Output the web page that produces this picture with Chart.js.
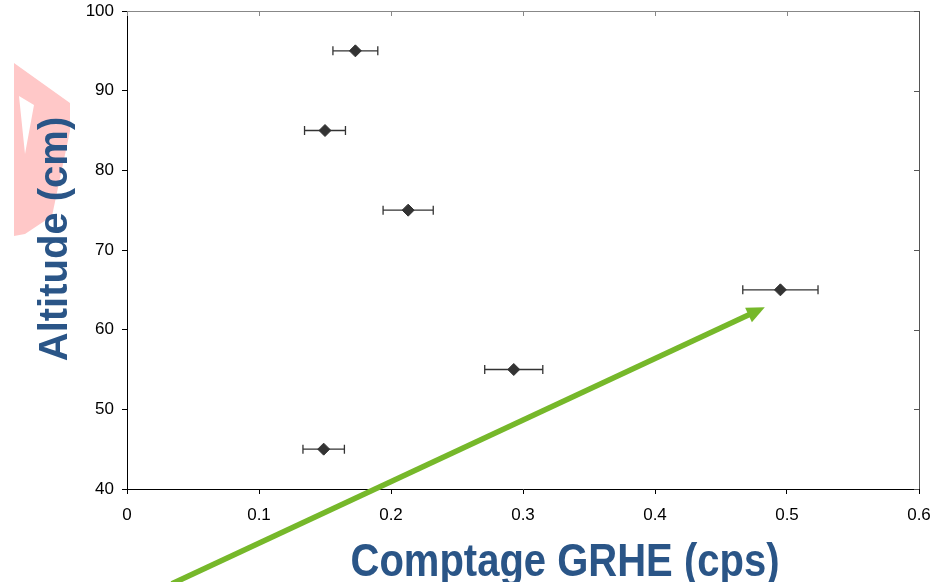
<!DOCTYPE html>
<html><head><meta charset="utf-8">
<script src="https://cdn.jsdelivr.net/npm/chart.js@4.4.1/dist/chart.umd.min.js"></script>
<style>html,body{margin:0;padding:0;background:#fff;overflow:hidden}#wrap{width:941px;height:582px;position:relative}</style>
</head><body><div id="wrap"><canvas id="c" width="941" height="582"></canvas></div>
<script>
// ---- data ----
const altitudes = [95, 85, 75, 65, 55, 45];
const counts = [0.173, 0.150, 0.213, 0.495, 0.293, 0.149];
const countErrors = [0.017, 0.0155, 0.019, 0.0285, 0.022, 0.0157];
const xTitle = 'Comptage GRHE (cps)';
const yTitle = 'Altitude (cm)';
// annotation arrow, in data units
const arrowFrom = [0.034, 28.1];
const arrowTo = [0.4832, 62.8];

const TITLE_BLUE = '#2a5587';
const FONT = "'Liberation Sans', Arial, sans-serif";

const decorPlugin = {
  id: 'decor',
  beforeDraw(chart) {
    const ctx = chart.ctx;
    ctx.save();
    ctx.fillStyle = '#ffc8c8';
    ctx.beginPath();
    const outer = [[14,63],[70,103],[70,131],[52,216],[25,234],[14,236]];
    outer.forEach((p,i)=> i ? ctx.lineTo(p[0],p[1]) : ctx.moveTo(p[0],p[1]));
    ctx.closePath();
    const hole = [[19,96],[34,105],[25,154]];
    hole.forEach((p,i)=> i ? ctx.lineTo(p[0],p[1]) : ctx.moveTo(p[0],p[1]));
    ctx.closePath();
    ctx.fill('evenodd');
    ctx.restore();
  },
  beforeDatasetsDraw(chart) {
    const {ctx, scales:{x, y}} = chart;
    ctx.save();
    ctx.strokeStyle = '#333';
    ctx.lineWidth = 1.3;
    altitudes.forEach((a, i) => {
      const py = y.getPixelForValue(a);
      const x1 = x.getPixelForValue(counts[i] - countErrors[i]);
      const x2 = x.getPixelForValue(counts[i] + countErrors[i]);
      ctx.beginPath();
      ctx.moveTo(x1, py); ctx.lineTo(x2, py);
      ctx.moveTo(x1, py - 4.5); ctx.lineTo(x1, py + 4.5);
      ctx.moveTo(x2, py - 4.5); ctx.lineTo(x2, py + 4.5);
      ctx.stroke();
    });
    ctx.restore();
  },
  afterDraw(chart) {
    const {ctx, chartArea:ca, scales:{x, y}} = chart;
    ctx.save();
    // top & right frame with inward ticks
    ctx.lineWidth = 1;
    ctx.strokeStyle = '#888';
    ctx.beginPath();
    ctx.moveTo(ca.left, Math.round(ca.top) + 0.5); ctx.lineTo(ca.right, Math.round(ca.top) + 0.5);
    x.ticks.forEach(t => {
      const px = Math.round(x.getPixelForValue(t.value)) + 0.5;
      ctx.moveTo(px, ca.top); ctx.lineTo(px, ca.top + 5);
    });
    ctx.stroke();
    ctx.strokeStyle = '#555';
    ctx.beginPath();
    ctx.moveTo(Math.round(ca.right) + 0.5, ca.top); ctx.lineTo(Math.round(ca.right) + 0.5, ca.bottom);
    y.ticks.forEach(t => {
      const py = Math.round(y.getPixelForValue(t.value)) + 0.5;
      ctx.moveTo(ca.right - 5, py); ctx.lineTo(ca.right, py);
    });
    ctx.stroke();

    // green arrow
    const sx = x.getPixelForValue(arrowFrom[0]), sy = y.getPixelForValue(arrowFrom[1]);
    const ex = x.getPixelForValue(arrowTo[0]), ey = y.getPixelForValue(arrowTo[1]);
    const ang = Math.atan2(ey - sy, ex - sx);
    const headLen = 18, headHalf = 8;
    const bx = ex - headLen * Math.cos(ang), by = ey - headLen * Math.sin(ang);
    ctx.strokeStyle = '#76b82a';
    ctx.fillStyle = '#76b82a';
    ctx.lineWidth = 5.5;
    ctx.beginPath();
    ctx.moveTo(sx, sy); ctx.lineTo(bx + Math.cos(ang), by + Math.sin(ang));
    ctx.stroke();
    ctx.beginPath();
    ctx.moveTo(ex, ey);
    ctx.lineTo(bx - headHalf * Math.sin(ang), by + headHalf * Math.cos(ang));
    ctx.lineTo(bx + headHalf * Math.sin(ang), by - headHalf * Math.cos(ang));
    ctx.closePath();
    ctx.fill();

    // axis titles
    ctx.fillStyle = TITLE_BLUE;
    ctx.font = 'bold 40px ' + FONT;
    ctx.textAlign = 'center';
    ctx.textBaseline = 'alphabetic';
    ctx.save();
    ctx.translate((ca.left + ca.right) / 2 + 42, 576);
    ctx.scale(1, 1.14);
    ctx.fillText(xTitle, 0, 0);
    ctx.restore();
    ctx.save();
    ctx.translate(66.5, (ca.top + ca.bottom) / 2 - 11);
    ctx.rotate(-Math.PI / 2);
    ctx.scale(1, 1.03);
    ctx.fillText(yTitle, 0, 0);
    ctx.restore();
    ctx.restore();
  }
};

new Chart(document.getElementById('c'), {
  type: 'scatter',
  data: {
    datasets: [{
      data: altitudes.map((a, i) => ({x: counts[i], y: a})),
      pointStyle: 'rectRot',
      pointRadius: 6,
      backgroundColor: '#333',
      borderColor: '#333',
      borderWidth: 1,
      showLine: false
    }]
  },
  options: {
    responsive: false,
    devicePixelRatio: 1,
    animation: false,
    layout: {padding: {left: 0, top: 11, right: 22, bottom: 0}},
    plugins: {legend: {display: false}, tooltip: {enabled: false}},
    scales: {
      x: {
        type: 'linear', min: 0, max: 0.6,
        ticks: {stepSize: 0.1, color: '#000', padding: 11, font: {family: FONT, size: 17},
          callback: v => String(+Number(v).toFixed(1))},
        grid: {drawOnChartArea: false, drawTicks: true, tickLength: 5, color: '#000', lineWidth: 1},
        border: {display: true, color: '#000', width: 1},
        afterFit: s => { s.height = 93; s.paddingLeft = 0; s.paddingRight = 0; }
      },
      y: {
        type: 'linear', min: 40, max: 100,
        ticks: {stepSize: 10, color: '#000', padding: 8, font: {family: FONT, size: 17}},
        grid: {drawOnChartArea: false, drawTicks: true, tickLength: 5, color: '#000', lineWidth: 1},
        border: {display: true, color: '#000', width: 1},
        afterFit: s => { s.width = 127; s.paddingTop = 0; s.paddingBottom = 0; }
      }
    }
  },
  plugins: [decorPlugin]
});
</script>
</body></html>
